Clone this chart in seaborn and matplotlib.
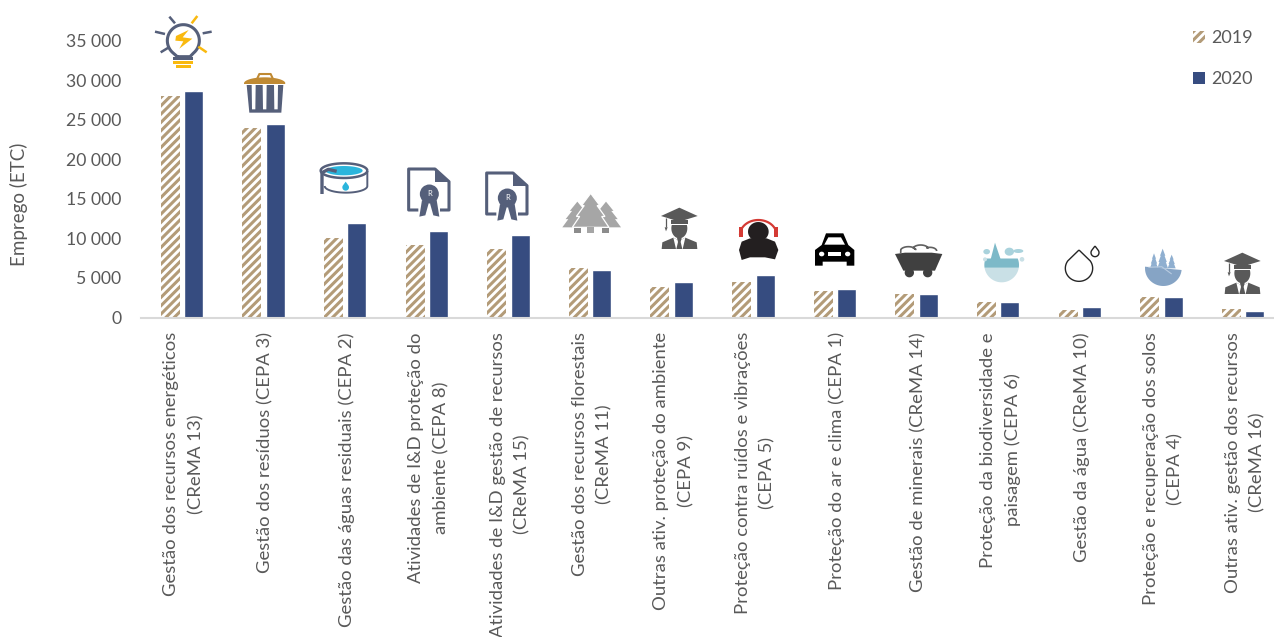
import numpy as np
import pandas as pd
import matplotlib
matplotlib.use("Agg")
import matplotlib.pyplot as plt
from matplotlib.patches import Patch
from matplotlib.ticker import FuncFormatter
from matplotlib.transforms import ScaledTranslation
import seaborn as sns

categories = [
    "Gestão dos recursos energéticos\n(CReMA 13)",
    "Gestão dos resíduos (CEPA 3)",
    "Gestão das águas residuais (CEPA 2)",
    "Atividades de I&D proteção do\nambiente (CEPA 8)",
    "Atividades de I&D gestão de recursos\n(CReMA 15)",
    "Gestão dos recursos florestais\n(CReMA 11)",
    "Outras ativ. proteção do ambiente\n(CEPA 9)",
    "Proteção contra ruídos e vibrações\n(CEPA 5)",
    "Proteção do ar e clima (CEPA 1)",
    "Gestão de minerais (CReMA 14)",
    "Proteção da biodiversidade e\npaisagem (CEPA 6)",
    "Gestão da água (CReMA 10)",
    "Proteção e recuperação dos solos\n(CEPA 4)",
    "Outras ativ. gestão dos recursos\n(CReMA 16)",
]
values_2019 = [28000, 23900, 10050, 9100, 8700, 6200, 3850, 4500, 3400, 3000, 1900, 1000, 2550, 1050]
values_2020 = [28600, 24500, 11950, 10900, 10400, 5950, 4500, 5350, 3650, 3000, 1950, 1300, 2600, 850]
years = ["2019", "2020"]
y_ticks = [0, 5000, 10000, 15000, 20000, 25000, 30000, 35000]

TAN = "#B39B78"
NAVY = "#364C80"
GREY_TEXT = "#595959"
SLATE = "#555F7A"
YELLOW = "#F9B90F"
W, H = 1274, 637

sns.set_theme(style="white")
plt.rcParams["font.family"] = ["Lato", "DejaVu Sans"]
plt.rcParams["hatch.linewidth"] = 2.2

frame = pd.DataFrame({
    "categoria": categories * 2,
    "ano": [years[0]] * len(categories) + [years[1]] * len(categories),
    "emprego": values_2019 + values_2020,
})

fig = plt.figure(figsize=(W / 100, H / 100), dpi=100, facecolor="white")
ax = fig.add_axes([141 / W, 1 - 317.5 / H, (1284 - 141) / W, 316.5 / H])
sns.barplot(data=frame, x="categoria", y="emprego", hue="ano",
            palette={years[0]: "white", years[1]: NAVY},
            width=0.575, gap=0.19, saturation=1, errorbar=None, legend=False, ax=ax)
for bar in ax.containers[0]:
    bar.set_hatch("////")
    bar.set_edgecolor(TAN)
    bar.set_linewidth(0)

ax.set_xlim(-0.5, 13.5)
ax.set_ylim(0, 40000)
ax.set_yticks(y_ticks)
ax.yaxis.set_major_formatter(FuncFormatter(lambda v, _: f"{int(v):,}".replace(",", " ")))
ax.tick_params(axis="y", length=0, pad=14, labelsize=12.7, labelcolor=GREY_TEXT)
ax.tick_params(axis="x", length=0, pad=10.5, labelsize=13.3, labelcolor=GREY_TEXT)
plt.setp(ax.get_xticklabels(), rotation=90, ha="center", va="top", multialignment="center",
         linespacing=1.65)
nudge = ScaledTranslation(2 / 100, 0, fig.dpi_scale_trans)
for label in ax.get_xticklabels():
    label.set_transform(label.get_transform() + nudge)
ax.set_xlabel("")
ax.set_ylabel("")
fig.text(19 / W, 1 - 204 / H, "Emprego (ETC)", rotation=90, ha="center", va="center",
         color=GREY_TEXT, fontsize=13.5)
sns.despine(ax=ax, left=True)
ax.spines["bottom"].set_color("#D9D9D9")
ax.spines["bottom"].set_linewidth(1.5)

handles = [Patch(facecolor="white", edgecolor=TAN, hatch="////", linewidth=0),
           Patch(facecolor=NAVY, edgecolor=NAVY, linewidth=0)]
fig.legend(handles, years, loc="upper left", bbox_to_anchor=(1193 / W, 1 - 30 / H), frameon=False,
           fontsize=13, labelcolor=GREY_TEXT, handlelength=0.66, handleheight=0.66,
           handletextpad=0.33, labelspacing=1.4, borderpad=0, borderaxespad=0)

# Pictogram layer, expressed in canvas pixels
ic = fig.add_axes([0, 0, 1, 1], zorder=5)
ic.set_xlim(0, W)
ic.set_ylim(H, 0)
ic.axis("off")
ic.patch.set_alpha(0)


def P(origin, pts):
    return np.array([(origin[0] + x / 3, origin[1] + y / 3) for x, y in pts])


def fill(origin, pts, color, **kw):
    p = P(origin, pts)
    ic.fill(p[:, 0], p[:, 1], color=color, lw=kw.pop("lw", 0), **kw)


def stroke(origin, pts, color, lw=1.5, **kw):
    p = P(origin, pts)
    ic.plot(p[:, 0], p[:, 1], color=color, lw=lw, solid_capstyle="butt", **kw)


def arc(cx, cy, rx, ry, a0, a1, n=48):
    t = np.radians(np.linspace(a0, a1, n))
    return list(zip(cx + rx * np.cos(t), cy - ry * np.sin(t)))


def bulb():
    o = (140, 0)
    stroke(o, [(112, 170)] + arc(130, 122, 48, 48, 230, -50) + [(150, 170), (112, 170)], SLATE, lw=2.2)
    fill(o, [(108, 108), (146, 90), (128, 112), (157, 116), (118, 146), (130, 124), (106, 122)], YELLOW)
    fill(o, [(100, 172), (160, 172), (160, 180), (100, 180)], SLATE)
    fill(o, [(100, 183), (160, 183), (160, 191), (100, 191)], YELLOW)
    fill(o, [(108, 194), (152, 194), (152, 203), (108, 203)], YELLOW)
    for seg in ([(88, 50), (105, 70)], [(45, 95), (75, 102)], [(62, 157), (85, 143)], [(188, 100), (215, 95)]):
        stroke(o, seg, SLATE, lw=1.8)
    for seg in ([(155, 70), (172, 48)], [(175, 140), (200, 157)]):
        stroke(o, seg, YELLOW, lw=1.8)


def bin_icon():
    o = (140, 0)
    stroke(o, [(352, 235), (358, 222), (392, 222), (398, 235)], "#C08A33", lw=1.5)
    fill(o, arc(374, 250, 62, 18, 0, 180) + [(312, 252), (435, 252)], "#C08A33")
    fill(o, [(320, 255), (430, 255), (424, 338), (328, 338)], SLATE)
    for x0, x1 in ((335, 347), (368, 380), (402, 414)):
        fill(o, [(x0, 255), (x1, 255), (x1 - 1, 328), (x0 + 1, 328)], "white")


def pool():
    o = (140, 0)
    fill(o, arc(612, 512, 70, 22, 0, 360), "white", zorder=2)
    fill(o, arc(612, 512, 56, 14, 0, 360), "#2BB5DC", zorder=3)
    stroke(o, arc(612, 512, 70, 22, 0, 360), SLATE, lw=1.8, zorder=3)
    stroke(o, [(682, 512), (682, 558)] + arc(618, 558, 64, 20, 0, -180), SLATE, lw=1.4, zorder=3)
    stroke(o, [(546, 582), (546, 518), (565, 508), (590, 514)], SLATE, lw=2.4, zorder=4)
    fill(o, [(617, 545)] + arc(617, 562, 10, 10, 30, -210), "#2BB5DC", zorder=3)


def certificate(o):
    stroke(o, [(835, 630), (806, 630), (806, 507), (885, 507), (927, 545), (927, 630), (900, 630)], SLATE, lw=2.2)
    fill(o, [(885, 507), (885, 545), (927, 545)], SLATE)
    fill(o, [(846, 600), (838, 650), (856, 646), (866, 610)], SLATE)
    fill(o, [(890, 600), (898, 650), (880, 646), (870, 610)], SLATE)
    c = P(o, [(868, 582)])[0]
    ic.add_patch(plt.Circle(c, 9.5, color=SLATE, lw=0))
    ic.text(c[0], c[1], "R", color="white", fontsize=5.5, ha="center", va="center")


def tree(o, x, top, bottom, half, color, edge=None):
    h = bottom - top
    right = [(x + half * 0.5, top + h * 0.36), (x + half * 0.35, top + h * 0.36),
             (x + half * 0.78, top + h * 0.68), (x + half * 0.6, top + h * 0.68), (x + half, top + h)]
    left = [(2 * x - a, b) for a, b in right[::-1]]
    p = P(o, [(x, top)] + right + left)
    ic.fill(p[:, 0], p[:, 1], facecolor=color, edgecolor=edge or color, lw=0.9 if edge else 0)


def forest():
    o = (500, 170)
    grey = "#A6A6A6"
    tree(o, 232, 95, 172, 45, grey)
    tree(o, 318, 95, 172, 45, grey)
    fill(o, [(222, 175), (243, 175), (243, 190), (222, 190)], "#8C8C8C")
    fill(o, [(305, 175), (326, 175), (326, 190), (305, 190)], "#8C8C8C")
    tree(o, 272, 70, 172, 55, grey, edge="white")
    fill(o, [(262, 172), (283, 172), (283, 190), (262, 190)], grey)


def graduate(o):
    dark = "#595959"
    fill(o, arc(538, 175, 24, 30, 0, 360), dark)
    fill(o, [(508, 150), (568, 150), (568, 164), (508, 164)], "white")
    fill(o, [(512, 150), (564, 150), (564, 161), (512, 161)], dark)
    fill(o, [(538, 113), (593, 138), (538, 155), (483, 138)], dark)
    stroke(o, [(498, 143), (498, 172)], dark, lw=0.9)
    fill(o, [(494, 172), (503, 172), (498, 184)], dark)
    fill(o, [(485, 237), (487, 217), (520, 203), (538, 212), (556, 203), (590, 217), (592, 237)], dark)
    fill(o, [(520, 203), (538, 212), (556, 203), (548, 237), (528, 237)], "white")
    fill(o, [(531, 204), (545, 204), (542, 216), (547, 237), (529, 237), (534, 216)], dark)


def headset():
    o = (500, 170)
    black = "#231F20"
    red = "#D43A34"
    fill(o, [(717, 240), (725, 215), (750, 205), (800, 205), (825, 215), (835, 240), (825, 268),
             (795, 262), (750, 262), (725, 270)], black)
    fill(o, arc(775, 185, 31, 29, 0, 360), black)
    stroke(o, arc(775, 195, 55, 45, 0, 180), red, lw=1.6)
    fill(o, [(717, 172), (730, 172), (730, 200), (717, 200)], red)
    fill(o, [(822, 172), (835, 172), (835, 200), (822, 200)], red)


def car():
    o = (500, 170)
    fill(o, [(965, 225), (978, 190), (1030, 190), (1045, 225), (1063, 240), (1063, 287), (1040, 287),
             (1040, 275), (968, 275), (968, 287), (945, 287), (945, 240)], "black")
    fill(o, [(973, 224), (985, 202), (1023, 202), (1035, 224)], "white")
    fill(o, arc(965, 252, 8, 7, 0, 360), "white")
    fill(o, arc(1043, 252, 8, 7, 0, 360), "white")
    fill(o, [(985, 247), (1023, 247), (1023, 258), (985, 258)], "white")


def mine_cart():
    o = (880, 170)
    dark = "#404040"
    stroke(o, [(62, 250)] + arc(85, 243, 24, 13, 160, 20) + arc(122, 238, 24, 13, 160, 20)
           + arc(150, 243, 20, 11, 120, 0), "#606060", lw=1.2)
    fill(o, [(45, 252), (75, 248), (155, 248), (187, 252), (165, 302), (70, 302)], dark)
    fill(o, arc(88, 308, 14, 14, 0, 360), dark)
    fill(o, arc(143, 308, 14, 14, 0, 360), dark)


def biodiversity():
    o = (880, 170)
    top = "#7DB9C8"
    low = "#C9E0E6"
    fill(o, arc(365, 285, 52, 52, 189, 351), low)
    fill(o, arc(365, 285, 52, 52, -9, 22) + arc(365, 285, 52, 52, 158, 189), top)
    fill(o, [(345, 218), (362, 268), (332, 268)], top)
    fill(o, arc(388, 245, 14, 12, 0, 360), "#A9D2DC")
    fill(o, arc(415, 243, 15, 6, 0, 360), "#A9D2DC")
    fill(o, arc(320, 245, 10, 8, 0, 360), "#A9D2DC")
    fill(o, arc(426, 268, 7, 7, 0, 360), low)
    fill(o, arc(315, 268, 6, 6, 0, 360), low)


def droplets():
    o = (880, 170)
    ink = "#262626"
    stroke(o, [(597, 240)] + arc(597, 295, 41, 39, 35, -215) + [(597, 240)], ink, lw=1.0)
    stroke(o, [(645, 228)] + arc(645, 248, 12, 12, 40, -220) + [(645, 228)], ink, lw=1.0)


def island():
    o = (880, 170)
    blue = "#86A4C5"
    tree(o, 848, 236, 295, 16, "#8FAFD0")
    tree(o, 822, 250, 295, 12, "#8FAFD0")
    tree(o, 875, 254, 295, 12, "#8FAFD0")
    fill(o, [(795, 290), (905, 300)] + arc(850, 295, 55, 53, -5, -175), blue)
    stroke(o, [(805, 292), (845, 290), (875, 312)], "#B8CBE0", lw=0.8)


bulb()
bin_icon()
pool()
certificate((140, 0))
certificate((218, 4))
forest()
graduate((500, 170))
headset()
car()
mine_cart()
biodiversity()
droplets()
island()
graduate((1063, 215))

fig.savefig("out.png", dpi=100)
